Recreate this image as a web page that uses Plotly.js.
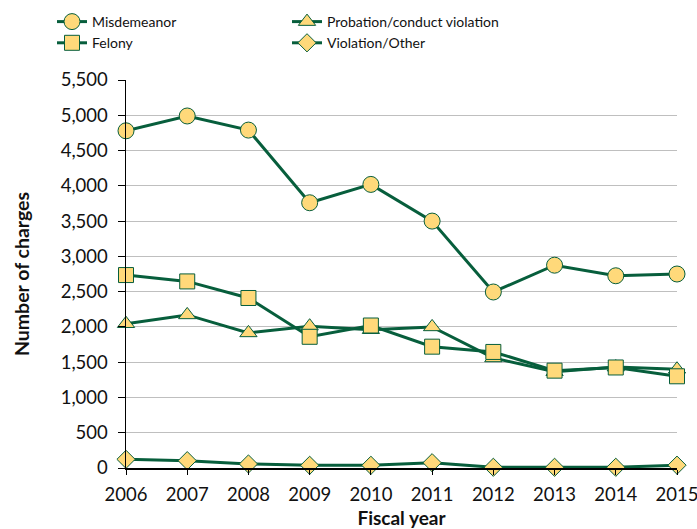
<!DOCTYPE html>
<html>
<head>
<meta charset="utf-8">
<script src="https://cdn.plot.ly/plotly-3.0.1.min.js"></script>
<style>html,body{margin:0;padding:0;background:#fff;}#chart{width:697px;height:529px;}</style>
</head>
<body>
<div id="chart"></div>
<script>
const years = [2006, 2007, 2008, 2009, 2010, 2011, 2012, 2013, 2014, 2015];
const misdemeanor = [4780, 4990, 4790, 3760, 4020, 3500, 2495, 2875, 2725, 2750];
const probation = [2045, 2170, 1915, 2010, 1960, 2000, 1560, 1365, 1430, 1400];
const felony = [2735, 2645, 2410, 1860, 2020, 1720, 1645, 1380, 1425, 1300];
const violation = [123, 104, 57, 38, 38, 75, 10, 10, 10, 40];
const yTicks = [0, 500, 1000, 1500, 2000, 2500, 3000, 3500, 4000, 4500, 5000, 5500];

const lineColor = '#075e3c';
const fillColor = '#ffd97a';
function tr(name, y, symbol, size) {
  return {
    x: years, y: y, name: name, type: 'scatter', mode: 'lines+markers',
    line: {color: lineColor, width: 3},
    marker: {symbol: symbol, size: size, color: fillColor, line: {color: lineColor, width: 1}},
    cliponaxis: false
  };
}
const data = [
  tr('Misdemeanor', misdemeanor, 'circle', 16),
  tr('Probation/conduct violation', probation, 'triangle-up', 15),
  tr('Felony', felony, 'square', 15),
  tr('Violation/Other', violation, 'diamond', 14)
];
const fam = 'Lato, "Open Sans", sans-serif';
const layout = {
  width: 697, height: 529,
  margin: {l: 126, r: 20, t: 80, b: 61, autoexpand: false},
  paper_bgcolor: '#fff', plot_bgcolor: '#fff',
  font: {family: fam, color: '#111'},
  showlegend: true,
  legend: {
    orientation: 'h', xref: 'container', yref: 'container',
    x: 52 / 697, xanchor: 'left', y: 1 - 6 / 529, yanchor: 'top',
    entrywidth: 190, entrywidthmode: 'pixels',
    font: {family: fam, size: 14, color: '#111'},
    tracegroupgap: 0, bgcolor: 'rgba(0,0,0,0)'
  },
  xaxis: {
    range: [2006, 2015], tickvals: years, ticktext: years.map(String),
    showgrid: false, zeroline: false, showline: true, linecolor: '#000', linewidth: 1.5,
    ticks: 'outside', ticklen: 5, tickcolor: '#000', ticklabelstandoff: 4,
    ticklabeloverflow: 'allow',
    tickfont: {family: fam, size: 18.5, color: '#111'},
    title: {text: 'Fiscal year', font: {family: fam, size: 19, color: '#111', weight: 'bold'}, standoff: 8}
  },
  yaxis: {
    range: [0, 5500], tickvals: yTicks, ticktext: yTicks.map(v => v.toLocaleString('en-US')),
    showgrid: true, gridcolor: '#bfbfbf', gridwidth: 1,
    zeroline: false, showline: true, linecolor: '#000', linewidth: 1.5,
    ticks: 'outside', ticklen: 7, tickcolor: '#000', ticklabelstandoff: 6,
    tickfont: {family: fam, size: 18.5, color: '#111'},
    title: {text: 'Number of charges', font: {family: fam, size: 19.5, color: '#111', weight: 'bold'}, standoff: 26}
  }
};
Plotly.newPlot('chart', data, layout, {displayModeBar: false, staticPlot: true});
</script>
</body>
</html>
